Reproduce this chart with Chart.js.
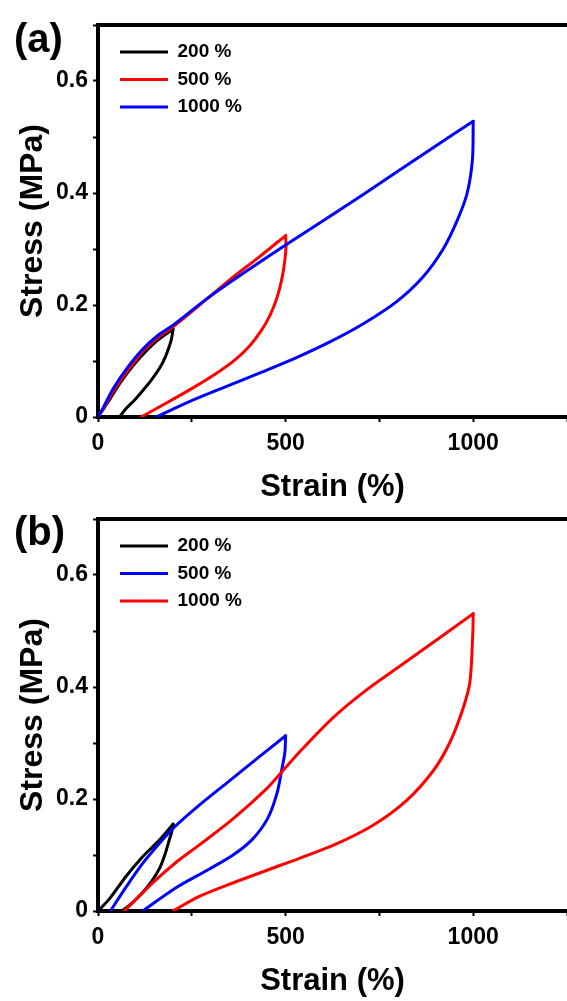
<!DOCTYPE html>
<html><head><meta charset="utf-8">
<script src="https://cdn.jsdelivr.net/npm/chart.js@4.4.1/dist/chart.umd.min.js"></script>
<style>
html,body{margin:0;padding:0;background:#fff;width:567px;height:1001px;overflow:hidden;}
canvas{position:absolute;left:0;}
.panel{position:absolute;font-family:'Liberation Sans',Arial,sans-serif;font-weight:bold;font-size:40px;line-height:40px;color:#000;}
</style></head><body>
<canvas id="ca" width="567" height="507" style="top:0px"></canvas>
<canvas id="cb" width="567" height="507" style="top:494px"></canvas>
<div class="panel" style="left:14px;top:18px">(a)</div>
<div class="panel" style="left:14px;top:511px">(b)</div>
<script>
const FONT = "'Liberation Sans', Arial, sans-serif";
const xTickLabels = ['0', '500', '1000'];
const yTickLabels = ['0', '0.2', '0.4', '0.6'];
const seriesNames = ['200 %', '500 %', '1000 %'];

// Panel (a): [strain %, stress MPa]
const aLoad200   = [[0,0],[30,0.03],[60,0.062],[100,0.097],[150,0.132],[200,0.157]];
const aUnload200 = [[200,0.157],[196,0.14],[191,0.128],[180,0.108],[164,0.087],[142,0.066],[119,0.047],[97,0.03],[76,0.016],[57,0]];
const aLoad500   = [[0,0],[15,0.015],[40,0.045],[76,0.080],[119,0.117],[160,0.142],[200,0.161],[280,0.205],[351,0.245],[430,0.286],[500,0.324]];
const aUnload500 = [[500,0.324],[501,0.304],[498,0.280],[493,0.257],[485,0.232],[474,0.207],[458,0.181],[436,0.155],[404,0.127],[365,0.102],[320,0.08],[253,0.052],[180,0.024],[115,0]];
const aLoad1000   = [[0,0],[15,0.018],[40,0.05],[76,0.086],[119,0.121],[160,0.146],[200,0.164],[280,0.206],[351,0.240],[500,0.307],[706,0.397],[884,0.477],[1000,0.528]];
const aUnload1000 = [[1000,0.528],[998,0.46],[984,0.40],[958,0.352],[920,0.300],[866,0.250],[796,0.206],[706,0.166],[618,0.134],[529,0.106],[440,0.081],[351,0.057],[245,0.028],[155,0]];

// Panel (b)
const bLoad200   = [[0,0],[31,0.022],[76,0.063],[119,0.097],[164,0.127],[200,0.155]];
const bUnload200 = [[200,0.155],[196,0.14],[190,0.127],[178,0.1],[164,0.076],[142,0.052],[119,0.033],[92,0.015],[64,0]];
const bLoad500   = [[33,0],[76,0.044],[119,0.085],[164,0.121],[204,0.150],[270,0.189],[342,0.228],[431,0.276],[500,0.313]];
const bUnload500 = [[500,0.313],[498,0.283],[490,0.253],[477,0.210],[452,0.165],[410,0.127],[360,0.100],[297,0.075],[209,0.042],[119,0]];
const bLoad1000   = [[70,0],[100,0.02],[155,0.056],[210,0.088],[270,0.118],[359,0.164],[449,0.218],[492,0.250],[537,0.284],[626,0.345],[714,0.394],[804,0.437],[892,0.479],[1000,0.531]];
const bUnload1000 = [[1000,0.531],[999,0.497],[991,0.408],[972,0.36],[937,0.30],[893,0.250],[822,0.197],[733,0.153],[626,0.117],[492,0.083],[359,0.050],[270,0.026],[200,0]];

const BLACK = '#000000', RED = '#ff0000', BLUE = '#0000ff';

const legendPos = {
  id: 'legendPos',
  afterLayout(chart) {
    const lg = chart.legend, ca = chart.chartArea;
    const w = lg.width, h = lg.height;
    lg.left = ca.left + 13.5; lg.top = ca.top + 9;
    lg.right = lg.left + w; lg.bottom = lg.top + h;
  }
};

function toPts(arr) { return arr.map(p => ({x: p[0], y: p[1]})); }

function makeChart(id, sets) {
  const datasets = [];
  sets.forEach(s => {
    const common = {borderColor: s.color, backgroundColor: s.color, borderWidth: 3, pointRadius: 0,
      showLine: true, fill: false, tension: 0.3, borderCapStyle: 'round', borderJoinStyle: 'round'};
    datasets.push(Object.assign({label: s.name, data: toPts(s.load)}, common));
    datasets.push(Object.assign({label: '', data: toPts(s.unload)}, common));
  });
  const tickFont = {family: FONT, size: 23, weight: 'bold'};
  const titleFont = {family: FONT, size: 31, weight: 'bold', lineHeight: 1};
  const gridOpts = {drawOnChartArea: false, drawTicks: true, tickLength: 5, tickWidth: 2, tickColor: '#000', color: '#000'};
  const borderOpts = {display: true, width: 4, color: '#000'};
  return new Chart(document.getElementById(id), {
    type: 'scatter',
    data: {datasets},
    plugins: [legendPos],
    options: {
      responsive: false, animation: false, devicePixelRatio: 1,
      layout: {padding: {top: 25, left: 0, right: 0, bottom: 0}},
      plugins: {
        tooltip: {enabled: false},
        legend: {
          position: 'chartArea', align: 'start',
          labels: {
            boxWidth: 48, boxHeight: 3, padding: 8.5, color: '#000',
            font: {family: FONT, size: 19, weight: 'bold'},
            generateLabels: chart => chart.data.datasets
              .map((d, i) => ({text: d.label, fillStyle: d.borderColor, strokeStyle: d.borderColor,
                lineWidth: 0, hidden: false, datasetIndex: i, fontColor: '#000'}))
              .filter(l => l.text).reverse()
          }
        }
      },
      scales: {
        x: {
          type: 'linear', position: 'bottom', min: 0, max: 1250,
          afterFit(s) { s.height = 90; s.paddingLeft = 0; s.paddingRight = 0; },
          ticks: {stepSize: 250, autoSkip: false, maxRotation: 0, padding: 8, color: '#000', font: tickFont,
            callback: v => { const k = Math.round(v / 250); return (k % 2 === 0 && k / 2 < xTickLabels.length) ? xTickLabels[k / 2] : ''; }},
          grid: gridOpts, border: borderOpts,
          title: {display: true, text: 'Strain (%)', color: '#000', font: titleFont, padding: {top: 0, bottom: 4}}
        },
        xTop: {
          type: 'linear', position: 'top', min: 0, max: 1250,
          afterFit(s) { s.height = 0; s.paddingLeft = 0; s.paddingRight = 0; },
          ticks: {display: false}, grid: {display: false, drawTicks: false}, border: borderOpts
        },
        y: {
          type: 'linear', position: 'left', min: 0, max: 0.7,
          afterFit(s) { s.width = 98; s.paddingTop = 0; s.paddingBottom = 0; },
          ticks: {stepSize: 0.1, autoSkip: false, padding: 5, color: '#000', font: tickFont,
            callback: v => { const k = Math.round(v * 10); return (k % 2 === 0 && k / 2 < yTickLabels.length) ? yTickLabels[k / 2] : ''; }},
          grid: gridOpts, border: borderOpts,
          title: {display: true, text: 'Stress (MPa)', color: '#000', font: {family: FONT, size: 32, weight: 'bold', lineHeight: 1}, padding: {top: 17, bottom: 0}}
        }
      }
    }
  });
}

makeChart('ca', [
  {name: seriesNames[2], color: BLUE, load: aLoad1000, unload: aUnload1000},
  {name: seriesNames[1], color: RED, load: aLoad500, unload: aUnload500},
  {name: seriesNames[0], color: BLACK, load: aLoad200, unload: aUnload200}
]);
makeChart('cb', [
  {name: seriesNames[2], color: RED, load: bLoad1000, unload: bUnload1000},
  {name: seriesNames[1], color: BLUE, load: bLoad500, unload: bUnload500},
  {name: seriesNames[0], color: BLACK, load: bLoad200, unload: bUnload200}
]);
</script>
</body></html>
